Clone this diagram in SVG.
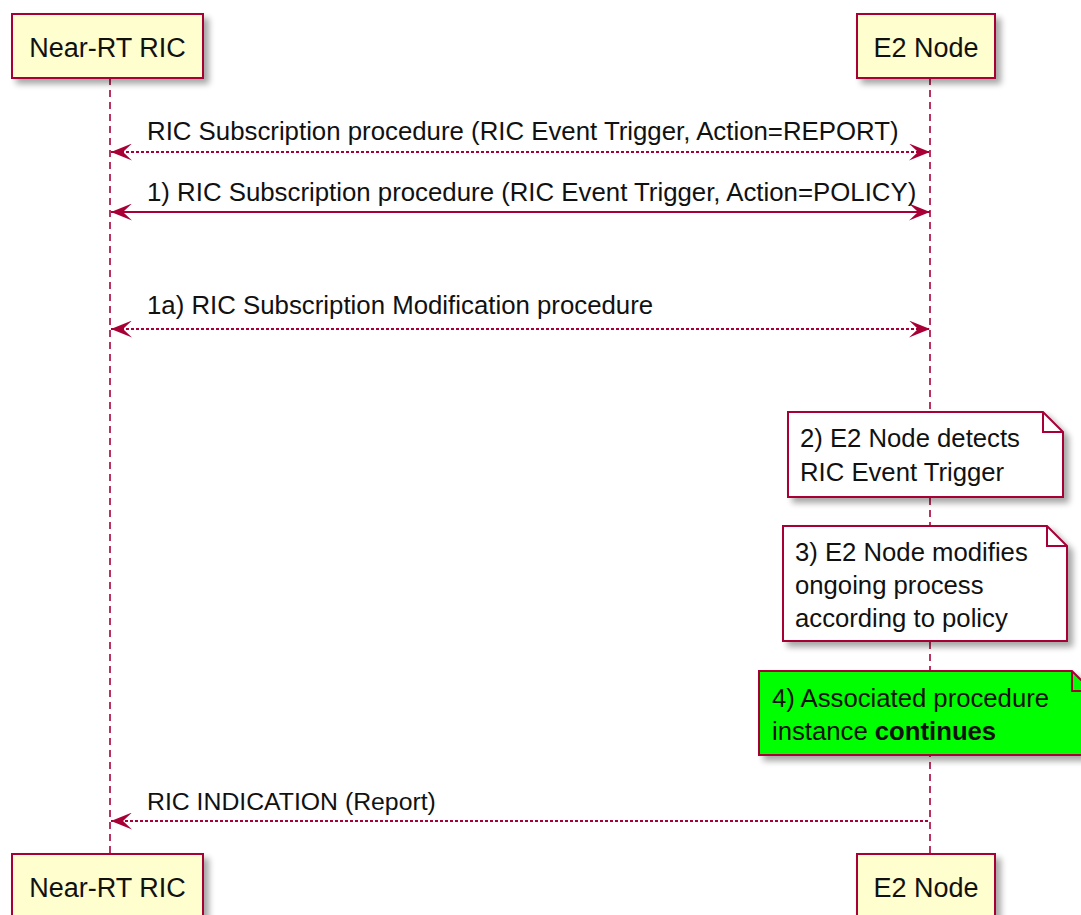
<svg xmlns="http://www.w3.org/2000/svg" width="1081" height="915" viewBox="0 0 1081 915">
<defs>
<filter id="sh" x="-10%" y="-10%" width="130%" height="140%">
<feGaussianBlur in="SourceAlpha" stdDeviation="3"/>
<feOffset dx="5" dy="5" result="o"/>
<feComponentTransfer><feFuncA type="linear" slope="0.35"/></feComponentTransfer>
<feMerge><feMergeNode/><feMergeNode in="SourceGraphic"/></feMerge>
</filter>
<marker id="ah" viewBox="0 0 21 17" refX="21" refY="8.5" markerWidth="21" markerHeight="17" markerUnits="userSpaceOnUse" orient="auto-start-reverse">
<path d="M0,0 L21,8.5 L0,17 L9,8.5 Z" fill="#A80036"/>
</marker>
</defs>
<style>
.actor{fill:#FEFECE;stroke:#A80036;stroke-width:2}
.atext{font-family:"Liberation Sans",Arial,sans-serif;font-size:27px;fill:#111;text-anchor:middle}
.life{stroke:#A80036;stroke-width:1.6;stroke-dasharray:7,5;fill:none}
.msg{stroke:#A80036;stroke-width:2;fill:none}
.dash{stroke-dasharray:3,2}
.mtext{font-family:"Liberation Sans",Arial,sans-serif;font-size:25.8px;fill:#111}
.note{stroke:#A80036;stroke-width:2}
.ntext{font-family:"Liberation Sans",Arial,sans-serif;font-size:25.7px;fill:#111}
</style>
<rect width="1081" height="915" fill="#ffffff"/>

<g id="lifelines">
<line class="life" x1="110" y1="78" x2="110" y2="854"/>
<line class="life" x1="930" y1="78" x2="930" y2="854"/>
</g>

<g id="actor-ric-top">
<rect class="actor" x="12" y="14" width="191" height="64" filter="url(#sh)"/>
<text class="atext" x="107.5" y="57">Near-RT RIC</text>
</g>
<g id="actor-e2-top">
<rect class="actor" x="857" y="14" width="138" height="64" filter="url(#sh)"/>
<text class="atext" x="926" y="57">E2 Node</text>
</g>
<g id="actor-ric-bottom">
<rect class="actor" x="12" y="854" width="191" height="64" filter="url(#sh)"/>
<text class="atext" x="107.5" y="897">Near-RT RIC</text>
</g>
<g id="actor-e2-bottom">
<rect class="actor" x="857" y="854" width="138" height="64" filter="url(#sh)"/>
<text class="atext" x="926" y="897">E2 Node</text>
</g>

<g id="connectors">
<line class="msg dash" x1="111" y1="152" x2="930" y2="152" marker-start="url(#ah)" marker-end="url(#ah)"/>
<text class="mtext" x="147" y="140">RIC Subscription procedure (RIC Event Trigger, Action=REPORT)</text>
<line class="msg" x1="111" y1="212" x2="930" y2="212" marker-start="url(#ah)" marker-end="url(#ah)"/>
<text class="mtext" x="147" y="201">1) RIC Subscription procedure (RIC Event Trigger, Action=POLICY)</text>
<line class="msg dash" x1="111" y1="329" x2="930" y2="329" marker-start="url(#ah)" marker-end="url(#ah)"/>
<text class="mtext" x="147" y="314">1a) RIC Subscription Modification procedure</text>
<line class="msg dash" x1="928" y1="821" x2="111" y2="821" marker-end="url(#ah)"/>
<text class="mtext" x="147" y="810" style="font-size:24.8px">RIC INDICATION (Report)</text>
</g>

<g id="note2">
<path class="note" d="M788,412 H1043 L1063,432 V497 H788 Z" fill="#ffffff" filter="url(#sh)"/>
<path class="note" d="M1043,412 V432 H1063" fill="none"/>
<text class="ntext" x="800" y="447">2) E2 Node detects</text>
<text class="ntext" x="800" y="481">RIC Event Trigger</text>
</g>
<g id="note3">
<path class="note" d="M783,526 H1047 L1067,546 V641 H783 Z" fill="#ffffff" filter="url(#sh)"/>
<path class="note" d="M1047,526 V546 H1067" fill="none"/>
<text class="ntext" x="795" y="561">3) E2 Node modifies</text>
<text class="ntext" x="795" y="594">ongoing process</text>
<text class="ntext" x="795" y="627">according to policy</text>
</g>
<g id="note4">
<path class="note" d="M759,671 H1072 L1092,691 V755 H759 Z" fill="#00FF00" filter="url(#sh)"/>
<path class="note" d="M1072,671 V691 H1092" fill="none"/>
<text class="ntext" x="772" y="707">4) Associated procedure</text>
<text class="ntext" x="772" y="740">instance <tspan font-weight="bold">continues</tspan></text>
</g>
</svg>
